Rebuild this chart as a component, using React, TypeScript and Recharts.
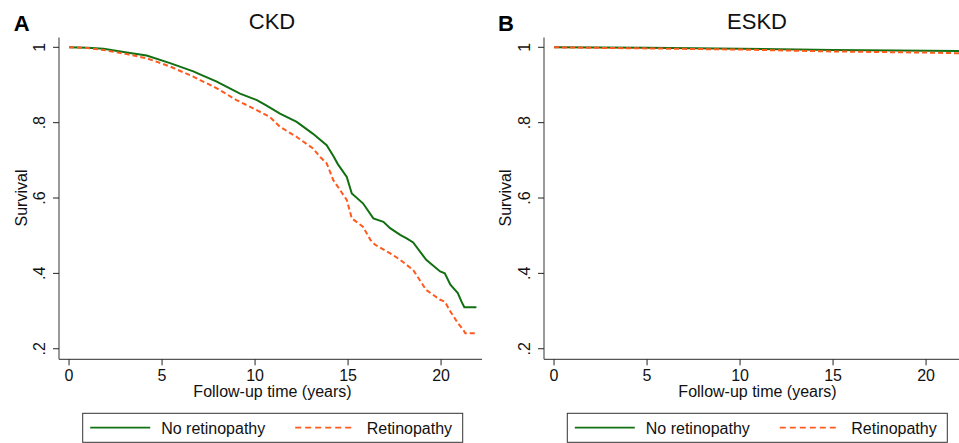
import React from 'react';
import { LineChart, Line, XAxis, YAxis } from 'recharts';

const FONT = '"Liberation Sans", Arial, Helvetica, sans-serif';
const GREEN = '#127012';
const ORANGE = '#ff5a1e';

const xTicks = [0, 5, 10, 15, 20];
const yTicks = [0.2, 0.4, 0.6, 0.8, 1];
const yTickLabels = ['.2', '.4', '.6', '.8', '1'];

// Panel A: CKD
const ckdNoRetTime = [0, 1.0, 1.85, 3.1, 4.17, 5.43, 6.68, 7.04, 7.94, 8.12, 9.19, 10.1, 10.6, 11.34, 12.24, 13.1, 13.85, 14.2, 14.45, 14.93, 15.2, 15.8, 16.36, 16.9, 17.26, 17.8, 18.15, 18.5, 19.2, 19.95, 20.2, 20.5, 20.9, 21.1, 21.25, 21.9];
const ckdNoRetSurv = [1.0, 0.999, 0.996, 0.986, 0.978, 0.958, 0.936, 0.928, 0.909, 0.904, 0.877, 0.86, 0.846, 0.824, 0.802, 0.771, 0.74, 0.712, 0.69, 0.656, 0.612, 0.586, 0.546, 0.537, 0.52, 0.502, 0.493, 0.482, 0.436, 0.405, 0.4, 0.37, 0.348, 0.325, 0.31, 0.31];
const ckdRetTime = [0, 1.0, 1.85, 3.1, 4.17, 5.43, 6.68, 7.04, 7.76, 8.12, 9.0, 9.9, 10.8, 11.34, 12.24, 13.1, 13.5, 13.85, 14.2, 14.93, 15.2, 15.8, 16.2, 16.45, 17.4, 17.8, 18.5, 19.2, 19.95, 20.2, 20.5, 20.9, 21.2, 21.3, 21.9];
const ckdRetSurv = [1.0, 0.998, 0.993, 0.982, 0.971, 0.949, 0.922, 0.913, 0.896, 0.886, 0.86, 0.838, 0.815, 0.789, 0.762, 0.732, 0.709, 0.692, 0.648, 0.595, 0.546, 0.524, 0.489, 0.476, 0.449, 0.436, 0.409, 0.356, 0.33, 0.325, 0.299, 0.268, 0.25, 0.241, 0.241];

// Panel B: ESKD
const eskdNoRetTime = [0, 5, 10, 15, 20, 21.9];
const eskdNoRetSurv = [1.0, 0.999, 0.996, 0.993, 0.991, 0.99];
const eskdRetTime = [0, 5, 10, 15, 20, 21.9];
const eskdRetSurv = [1.0, 0.997, 0.994, 0.989, 0.986, 0.984];

const rows = (t: number[], s: number[]) => t.map((x, i) => ({ t: x, s: s[i] }));

const XTick = (props: any) => {
  const { x, y, payload } = props;
  return (
    <text x={x} y={y + 14} textAnchor="middle" fontSize={16} fontFamily={FONT} fill="#111">
      {payload.value}
    </text>
  );
};

const YTick = (props: any) => {
  const { x, y, payload } = props;
  const idx = yTicks.findIndex((v) => Math.abs(v - payload.value) < 1e-6);
  const label = idx >= 0 ? yTickLabels[idx] : String(payload.value);
  const bx = x - 6;
  return (
    <text x={bx} y={y} transform={`rotate(-90 ${bx} ${y})`} textAnchor="middle" fontSize={16} fontFamily={FONT} fill="#111">
      {label}
    </text>
  );
};

type PanelProps = {
  left: number;
  mLeft: number;
  mRight: number;
  noRet: { t: number; s: number }[];
  ret: { t: number; s: number }[];
};

const Y_W = 40;
const X_H = 30;

const Panel = ({ left, mLeft, mRight, noRet, ret }: PanelProps) => (
  <div style={{ position: 'absolute', left, top: 0 }}>
    <LineChart width={490} height={443} margin={{ top: 37.5, right: mRight, bottom: 83.7 - X_H, left: mLeft - Y_W }}>
      <XAxis
        type="number"
        dataKey="t"
        domain={[-0.54, 22.2]}
        ticks={xTicks}
        allowDataOverflow
        height={X_H}
        tickSize={6}
        tick={<XTick />}
        axisLine={{ stroke: '#555', strokeWidth: 1.2 }}
        tickLine={{ stroke: '#222' }}
      />
      <YAxis
        type="number"
        domain={[0.172, 1.026]}
        ticks={yTicks}
        allowDataOverflow
        width={Y_W}
        tickSize={6}
        tick={<YTick />}
        axisLine={{ stroke: '#555', strokeWidth: 1.2 }}
        tickLine={{ stroke: '#222' }}
      />
      <Line data={noRet} dataKey="s" type="linear" stroke={GREEN} strokeWidth={2} dot={false} isAnimationActive={false} />
      <Line data={ret} dataKey="s" type="linear" stroke={ORANGE} strokeWidth={2} strokeDasharray="5 3" dot={false} isAnimationActive={false} />
    </LineChart>
  </div>
);

const LegendBox = ({ x0 }: { x0: number }) => (
  <g>
    <rect x={x0} y={413.3} width={380} height={29} fill="none" stroke="#333" strokeWidth={1} />
    <line x1={x0 + 7.5} x2={x0 + 67.5} y1={427.7} y2={427.7} stroke={GREEN} strokeWidth={1.8} />
    <text x={x0 + 78.5} y={434.3} fontSize={16} fontFamily={FONT} fill="#111">No retinopathy</text>
    <line x1={x0 + 212.5} x2={x0 + 272.5} y1={427.7} y2={427.7} stroke={ORANGE} strokeWidth={1.8} strokeDasharray="6 4" />
    <text x={x0 + 284} y={434.3} fontSize={16} fontFamily={FONT} fill="#111">Retinopathy</text>
  </g>
);

export default function App() {
  return (
    <div style={{ position: 'fixed', left: 0, top: 0, width: 959, height: 443, overflow: 'hidden', background: '#fff' }}>
      <Panel left={0} mLeft={59} mRight={8} noRet={rows(ckdNoRetTime, ckdNoRetSurv)} ret={rows(ckdRetTime, ckdRetSurv)} />
      <Panel left={480} mLeft={64} mRight={3} noRet={rows(eskdNoRetTime, eskdNoRetSurv)} ret={rows(eskdRetTime, eskdRetSurv)} />
      <svg width={959} height={443} style={{ position: 'absolute', left: 0, top: 0, pointerEvents: 'none' }}>
        <text x={21.7} y={30.7} textAnchor="middle" fontSize={22} fontWeight="bold" fontFamily={FONT} fill="#000">A</text>
        <text x={272} y={29.3} textAnchor="middle" fontSize={22} fontFamily={FONT} fill="#111">CKD</text>
        <text x={506} y={30.7} textAnchor="middle" fontSize={22} fontWeight="bold" fontFamily={FONT} fill="#000">B</text>
        <text x={757} y={29.3} textAnchor="middle" fontSize={22} fontFamily={FONT} fill="#111">ESKD</text>
        <text x={26.7} y={198} transform="rotate(-90 26.7 198)" textAnchor="middle" fontSize={16} fontFamily={FONT} fill="#111">Survival</text>
        <text x={511.3} y={198} transform="rotate(-90 511.3 198)" textAnchor="middle" fontSize={16} fontFamily={FONT} fill="#111">Survival</text>
        <text x={272.5} y={396.7} textAnchor="middle" fontSize={16} fontFamily={FONT} fill="#111">Follow-up time (years)</text>
        <text x={757.5} y={396.7} textAnchor="middle" fontSize={16} fontFamily={FONT} fill="#111">Follow-up time (years)</text>
        <LegendBox x0={82.7} />
        <LegendBox x0={567.3} />
      </svg>
    </div>
  );
}
